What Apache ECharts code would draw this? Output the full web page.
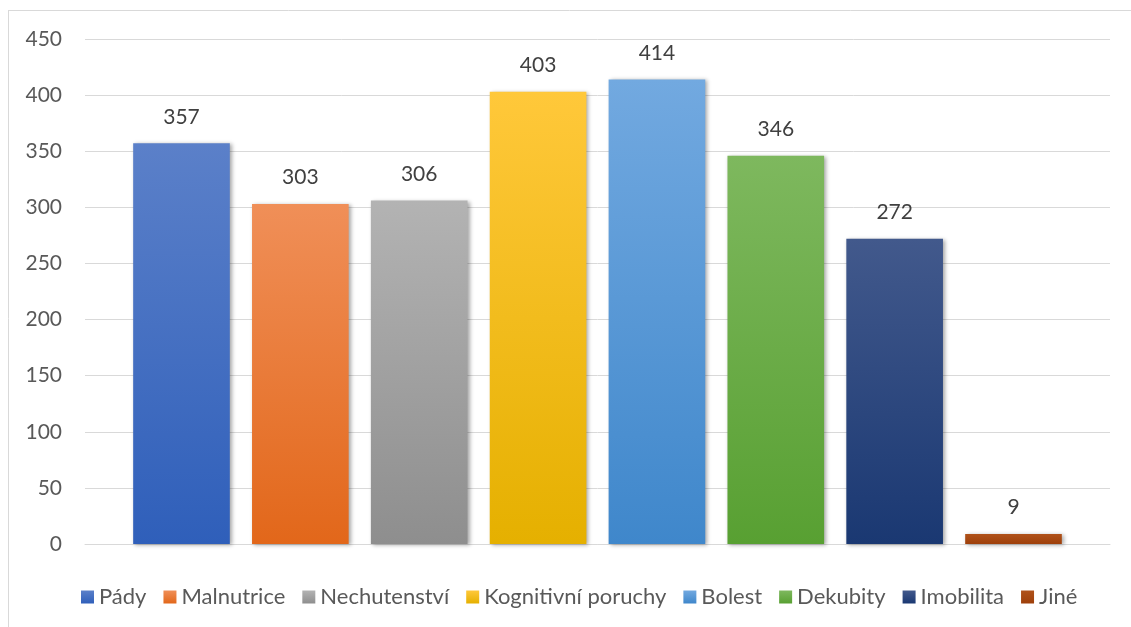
<!DOCTYPE html>
<html>
<head>
<meta charset="utf-8">
<script src="https://cdn.jsdelivr.net/npm/echarts@6/dist/echarts.min.js"></script>
<style>
  html, body { margin: 0; padding: 0; background: #fff; }
  #chart { width: 1131px; height: 627px; }
</style>
</head>
<body>
<div id="chart"></div>
<script>
const names = ['Pády', 'Malnutrice', 'Nechutenství', 'Kognitivní poruchy', 'Bolest', 'Dekubity', 'Imobilita', 'Jiné']
const values = [357, 303, 306, 403, 414, 346, 272, 9]
const topColors = ['#5b80c9', '#f08f58', '#b3b3b3', '#ffc83a', '#72a9e0', '#7eb85e', '#42598c', '#b0521a']
const bottomColors = ['#2f5fba', '#e2671a', '#8e8e8e', '#e5b000', '#3f87cb', '#58a032', '#1a3872', '#9e3f0a']

const myChart = echarts.init(document.getElementById('chart'))

const series = names.map((name, i) => {
    return {
        name: name,
        type: 'bar',
        data: [values[i]],
        barGap: '23%',
        barCategoryGap: '9.4%',
        itemStyle: {
            color: {
                type: 'linear', x: 0, y: 0, x2: 0, y2: 1,
                colorStops: [
                    { offset: 0, color: topColors[i] },
                    { offset: 1, color: bottomColors[i] }
                ]
            },
            shadowColor: 'rgba(0,0,0,0.35)',
            shadowBlur: 4,
            shadowOffsetX: 2,
            shadowOffsetY: 1
        },
        label: {
            show: true,
            position: 'top',
            distance: 16,
            fontFamily: 'Lato',
            fontSize: 21,
            color: '#404040'
        }
    }
})

const option = {
    animation: false,
    textStyle: { fontFamily: 'Lato' },
    grid: {
        left: 85,
        right: 21,
        top: 39,
        bottom: 83
    },
    legend: {
        top: 581,
        left: 76,
        itemWidth: 13,
        itemHeight: 13,
        itemGap: 17,
        icon: 'rect',
        textStyle: { fontFamily: 'Lato', fontSize: 22, color: '#595959' },
        data: names
    },
    xAxis: {
        type: 'category',
        data: [''],
        axisLine: { lineStyle: { color: '#d9d9d9' } },
        axisTick: { show: false },
        axisLabel: { show: false }
    },
    yAxis: {
        type: 'value',
        min: 0,
        max: 450,
        interval: 50,
        axisLine: { show: false },
        axisTick: { show: false },
        axisLabel: { fontFamily: 'Lato', fontSize: 21, color: '#595959', margin: 23 },
        splitLine: { lineStyle: { color: '#d9d9d9', width: 1 } }
    },
    graphic: [
        { type: 'line', shape: { x1: 8, y1: 10.5, x2: 1131, y2: 10.5 }, style: { stroke: '#d9d9d9', lineWidth: 1 } },
        { type: 'line', shape: { x1: 8.5, y1: 10, x2: 8.5, y2: 627 }, style: { stroke: '#d9d9d9', lineWidth: 1 } }
    ],
    series: series
}

option && myChart.setOption(option)

window.onresize = () => {
    myChart.resize()
}
</script>
</body>
</html>
